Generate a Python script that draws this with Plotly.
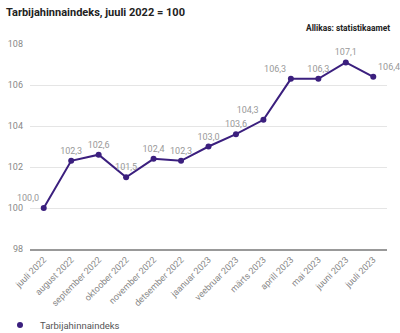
import plotly.graph_objects as go

months = ["juuli 2022", "august 2022", "september 2022", "oktoober 2022", "november 2022",
          "detsember 2022", "jaanuar 2023", "veebruar 2023", "märts 2023", "aprill 2023",
          "mai 2023", "juuni 2023", "juuli 2023"]
values = [100.0, 102.3, 102.6, 101.5, 102.4, 102.3, 103.0, 103.6, 104.3, 106.3, 106.3, 107.1, 106.4]
y_ticks = [98, 100, 102, 104, 106, 108]
series_name = "Tarbijahinnaindeks"
title_text = "Tarbijahinnaindeks, juuli 2022 = 100"
source_text = "Allikas: statistikaamet"

color = "#3b1f7e"
positions = ["top center"] * len(values)
positions[0] = "top left"
positions[8] = "top left"
positions[9] = "top left"
positions[-1] = "top right"

W, H = 400, 333
L, R, T, B = 30, 13, 44, 84
pw, ph = W - L - R, H - T - B

fig = go.Figure()
fig.add_trace(go.Scatter(
    x=list(range(len(months))), y=values, mode="lines+markers+text",
    name=series_name, showlegend=False,
    line=dict(color=color, width=2),
    marker=dict(color=color, size=6),
    text=[f"{v:.1f}".replace(".", ",") for v in values],
    textposition=positions,
    textfont=dict(color="#999999", size=9, family="Roboto"),
    cliponaxis=False,
))
# legend entry (marker only)
fig.add_trace(go.Scatter(
    x=[None], y=[None], mode="markers", name=series_name,
    marker=dict(color=color, size=6), showlegend=True,
))

fig.update_layout(
    width=W, height=H,
    margin=dict(l=L, r=R, t=T, b=B),
    paper_bgcolor="white", plot_bgcolor="white",
    font=dict(family="Roboto", color="#888888", size=9),
    separators=", ",
    showlegend=True,
    legend=dict(orientation="h", x=-8 / W, xref="container", y=(H - 325) / H, yref="container",
                yanchor="middle", xanchor="left",
                font=dict(color="#555555", size=9.5)),
    title=dict(text=f"<b>{title_text}</b>", xref="container", x=6 / W, xanchor="left",
               yref="container", y=1 - 12 / H, yanchor="middle",
               font=dict(family="Roboto", size=11, color="#222222")),
    annotations=[dict(text=f"<b>{source_text}</b>", xref="paper", yref="paper",
                      x=(392 - L) / pw, y=1 + (T - 28) / ph, xanchor="right", yanchor="middle",
                      showarrow=False,
                      font=dict(family="Roboto", size=8.4, color="#222222"))],
)
fig.update_xaxes(
    tickmode="array", tickvals=list(range(len(months))), ticktext=months,
    range=[-0.5, len(months) - 0.5], tickangle=-45, showgrid=False,
    showline=True, linecolor="#999999", linewidth=2, ticks="",
    tickfont=dict(size=9, color="#888888"), zeroline=False, automargin=False,
)
fig.update_yaxes(
    range=[98, 108], tickvals=y_ticks, showgrid=True, gridcolor="#e5e5e5", gridwidth=1,
    zeroline=False, showline=False, ticks="", tickfont=dict(size=9, color="#888888"),
    ticklabelstandoff=6, automargin=False,
)

fig.write_html("out.html")
